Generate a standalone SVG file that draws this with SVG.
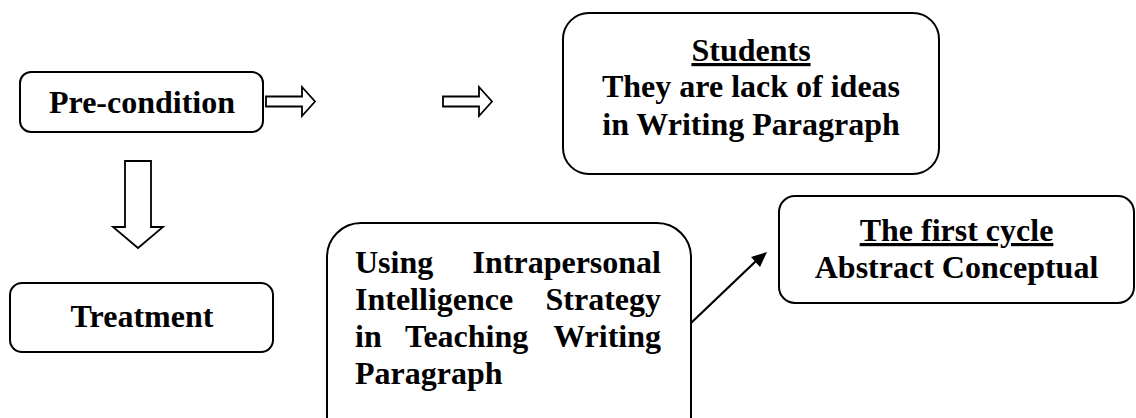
<svg xmlns="http://www.w3.org/2000/svg" width="1136" height="418" viewBox="0 0 1136 418">
  <style>
    .box { fill: #ffffff; stroke: #000000; stroke-width: 2; }
    .block { fill: #ffffff; stroke: #000000; stroke-width: 1.8; stroke-linejoin: miter; }
    text { font-family: 'Liberation Serif', 'Times New Roman', Times, serif; font-weight: 700; font-size: 32px; fill: #000000; }
    .c { text-anchor: middle; }
    .e { text-anchor: end; }
    .u { text-decoration: underline; }
    .line { stroke: #000000; stroke-width: 2.2; fill: none; }
  </style>

  <rect width="1136" height="418" fill="#ffffff"/>

  <!-- connectors -->
  <g id="connectors">
    <polygon class="block" points="266,96.5 302,96.5 302,87 315,101.5 302,116 302,106.5 266,106.5"/>
    <polygon class="block" points="443,96.5 479,96.5 479,87 492,101.5 479,116 479,106.5 443,106.5"/>
    <polygon class="block" points="125,161 151,161 151,227 163,227 138,248 113,227 125,227"/>
    <line class="line" x1="691" y1="323" x2="756" y2="261"/>
    <polygon points="767,252 751,257 760,267" fill="#000000"/>
  </g>

  <!-- Pre-condition -->
  <g id="precondition">
    <rect class="box" x="20" y="72" width="243" height="60" rx="11"/>
    <text class="c" x="142" y="113">Pre-condition</text>
  </g>

  <!-- Students -->
  <g id="students">
    <rect class="box" x="563" y="13" width="376" height="161" rx="26"/>
    <text class="c u" x="751" y="61">Students</text>
    <text class="c" x="751" y="97">They are lack of ideas</text>
    <text class="c" x="751" y="135">in Writing Paragraph</text>
  </g>

  <!-- Treatment -->
  <g id="treatment">
    <rect class="box" x="10" y="283" width="263" height="69" rx="12"/>
    <text class="c" x="142" y="327">Treatment</text>
  </g>

  <!-- Strategy -->
  <g id="strategy">
    <rect class="box" x="327" y="223" width="364" height="230" rx="34"/>
    <text x="355" y="273">Using</text>
    <text class="e" x="661" y="273">Intrapersonal</text>
    <text x="355" y="310">Intelligence</text>
    <text class="e" x="661" y="310">Strategy</text>
    <text x="355" y="347">in</text>
    <text x="405" y="347">Teaching</text>
    <text class="e" x="661" y="347">Writing</text>
    <text x="355" y="384">Paragraph</text>
  </g>

  <!-- First cycle -->
  <g id="first-cycle">
    <rect class="box" x="779" y="196" width="355" height="107" rx="16"/>
    <text class="c u" x="956.5" y="241">The first cycle</text>
    <text class="c" x="956.5" y="278">Abstract Conceptual</text>
  </g>
</svg>
